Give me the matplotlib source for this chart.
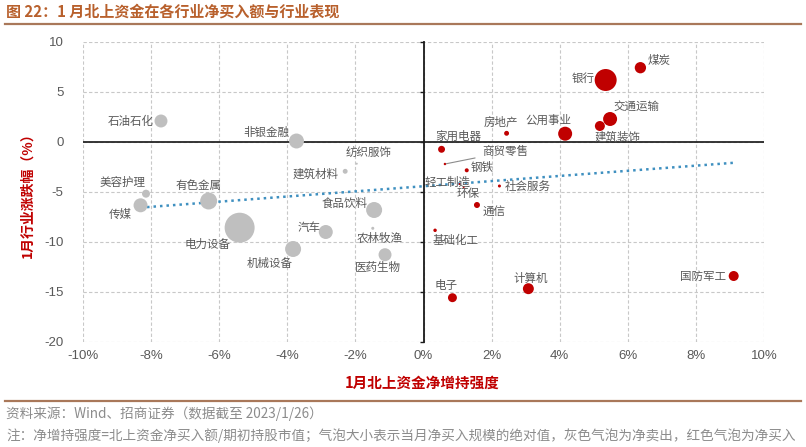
import numpy as np
import matplotlib
matplotlib.use("Agg")
import matplotlib.pyplot as plt
from matplotlib.ticker import FuncFormatter

plt.rcParams["font.family"] = ["Noto Sans CJK SC", "DejaVu Sans"]
plt.rcParams["axes.unicode_minus"] = False

# 行业、1月北上资金净增持强度(%)、1月行业涨跌幅(%)、净买入规模绝对值(相对单位)
industries = [
    "煤炭", "银行", "交通运输", "建筑装饰", "公用事业", "房地产", "家用电器",
    "商贸零售", "钢铁", "轻工制造", "环保", "社会服务", "通信", "基础化工",
    "电子", "计算机", "国防军工",
    "石油石化", "非银金融", "纺织服饰", "建筑材料", "美容护理", "传媒",
    "有色金属", "电力设备", "食品饮料", "汽车", "农林牧渔", "机械设备", "医药生物",
]
net_increase = [
    6.37, 5.35, 5.48, 5.18, 4.16, 2.44, 0.53,
    0.63, 1.27, 1.06, 1.18, 2.23, 1.57, 0.34,
    0.85, 3.08, 9.11,
    -7.71, -3.73, -1.96, -2.30, -8.15, -8.31,
    -6.31, -5.40, -1.45, -2.87, -1.49, -3.83, -1.13,
]
industry_return = [
    7.43, 6.2, 2.3, 1.6, 0.83, 0.87, -0.73,
    -2.2, -2.83, -4.2, -4.5, -4.4, -6.3, -8.83,
    -15.57, -14.67, -13.4,
    2.1, 0.1, -2.17, -2.93, -5.17, -6.33,
    -5.9, -8.57, -6.8, -9.0, -8.63, -10.7, -11.27,
]
net_buy_abs = [
    32, 121, 49, 25, 49, 6, 12,
    1.5, 4, 1, 1, 2.3, 9, 3,
    20, 30, 25,
    42, 56, 1, 6, 16, 49,
    72, 225, 64, 49, 2.3, 64, 42,
]

# 标签相对气泡中心的偏移(像素, 向右/向上为正)与对齐方式
label_layout = {
    "煤炭": (7, 7, "left"), "银行": (-11, 2, "right"),
    "交通运输": (3, 13, "left"), "建筑装饰": (-5, -11, "left"),
    "公用事业": (-17, 13, "center"), "房地产": (-6, 11, "center"),
    "家用电器": (17, 13, "center"), "商贸零售": (37, 12, "left"),
    "钢铁": (4, 3, "left"), "轻工制造": (-12, 2, "center"),
    "环保": (4, -6, "center"), "社会服务": (5, 0, "left"),
    "通信": (6, -6, "left"), "基础化工": (-2, -10, "left"),
    "电子": (-6, 12, "center"), "计算机": (2, 10, "center"),
    "国防军工": (-8, 0, "right"), "石油石化": (-7, 0, "right"),
    "非银金融": (-7, 9, "right"), "纺织服饰": (12, 11, "center"),
    "建筑材料": (-7, -3, "right"), "美容护理": (-23, 11, "center"),
    "传媒": (-9, -9, "right"), "有色金属": (-10, 16, "center"),
    "电力设备": (-9, -17, "right"), "食品饮料": (-7, 7, "right"),
    "汽车": (-5, 5, "right"), "农林牧渔": (7, -10, "center"),
    "机械设备": (0, -14, "right"), "医药生物": (-7, -13, "center"),
}

RED = "#c00000"
GREY = "#bfbfbf"
TEXT = "#595959"
BROWN = "#a9785a"

x = np.array(net_increase)
y = np.array(industry_return)
size = np.array(net_buy_abs)
colors = [RED if v > 0 else GREY for v in x]

fig = plt.figure(figsize=(8.06, 4.47), dpi=100)
ax = fig.add_axes([83 / 806, 1 - 342 / 447, (764 - 83) / 806, 300 / 447])

ax.set_xlim(-10, 10)
ax.set_ylim(-20, 10)
ax.set_xticks(np.arange(-10, 11, 2))
ax.set_yticks(np.arange(-20, 11, 5))
ax.grid(True, linestyle=(0, (3, 2)), color="#c8c8c8", linewidth=0.8)
ax.set_axisbelow(True)

for side in ("top", "right", "bottom"):
    ax.spines[side].set_visible(False)
ax.spines["left"].set_position(("data", 0))
ax.spines["left"].set_color("#1a1a1a")
ax.spines["left"].set_linewidth(1.3)
ax.tick_params(axis="y", direction="out", length=3, width=1.0, color="#1a1a1a", labelleft=False)
ax.tick_params(axis="x", length=0, labelbottom=False)
ax.axhline(0, color="#262626", linewidth=1.3, zorder=1.5)

ax.scatter(x, y, s=size * 2.07, c=colors, linewidths=0, zorder=3)

# 线性趋势线
k, b = np.polyfit(x, y, 1)
tx = np.array([x.min(), x.max()])
ax.plot(tx, k * tx + b, color="#3f90c0", linestyle=(0, (1, 1.6)), linewidth=1.8, zorder=2.5)

for name, xi, yi in zip(industries, x, y):
    dx, dy, ha = label_layout[name]
    if name == "商贸零售":
        ax.annotate(name, (xi, yi), xytext=(dx * 0.72, dy * 0.72), textcoords="offset points",
                    ha=ha, va="center", fontsize=8.3, color=TEXT, zorder=4,
                    arrowprops=dict(arrowstyle="-", color="#8c8c8c", lw=0.8,
                                    shrinkA=3, shrinkB=1))
    else:
        ax.annotate(name, (xi, yi), xytext=(dx * 0.72, dy * 0.72), textcoords="offset points",
                    ha=ha, va="center", fontsize=8.3, color=TEXT, zorder=4)

sec_y = ax.secondary_yaxis("left")
sec_y.spines["left"].set_visible(False)
sec_y.set_yticks(np.arange(-20, 11, 5))
sec_y.tick_params(length=0, pad=14, labelsize=9.5, labelcolor=TEXT)
for t in sec_y.get_yticklabels():
    t.set_fontfamily("Liberation Sans")

sec_x = ax.secondary_xaxis("bottom")
sec_x.spines["bottom"].set_visible(False)
sec_x.set_xticks(np.arange(-10, 11, 2))
sec_x.xaxis.set_major_formatter(FuncFormatter(lambda v, _: f"{v:.0f}%"))
sec_x.tick_params(length=0, pad=6, labelsize=9.5, labelcolor=TEXT)
for t in sec_x.get_xticklabels():
    t.set_fontfamily("Liberation Sans")

fig.text(0.524, 1 - 383 / 447, "1月北上资金净增持强度", ha="center", va="center",
         fontsize=10.5, fontweight="bold", color=RED)
fig.text(27 / 806, 1 - 192 / 447, "1月行业涨跌幅（%）", ha="center", va="center",
         rotation=90, fontsize=10, fontweight="bold", color=RED)

fig.text(6 / 806, 1 - 12 / 447, "图 22：1 月北上资金在各行业净买入额与行业表现", ha="left",
         va="center", fontsize=10.8, fontweight="bold", color="#b8602c")
fig.add_artist(plt.Line2D([5 / 806, 801 / 806], [1 - 24 / 447, 1 - 24 / 447],
                          color=BROWN, linewidth=1.6))
fig.add_artist(plt.Line2D([5 / 806, 801 / 806], [1 - 401 / 447, 1 - 401 / 447],
                          color=BROWN, linewidth=1.6))
fig.text(6 / 806, 1 - 414 / 447, "资料来源：Wind、招商证券（数据截至 2023/1/26）", ha="left",
         va="center", fontsize=9.8, color="#8c8c8c")
fig.text(6 / 806, 1 - 436 / 447,
         "注：净增持强度=北上资金净买入额/期初持股市值；气泡大小表示当月净买入规模的绝对值，灰色气泡为净卖出，红色气泡为净买入",
         ha="left", va="center", fontsize=9.8, color="#8c8c8c")

fig.savefig("out.png", dpi=100)
